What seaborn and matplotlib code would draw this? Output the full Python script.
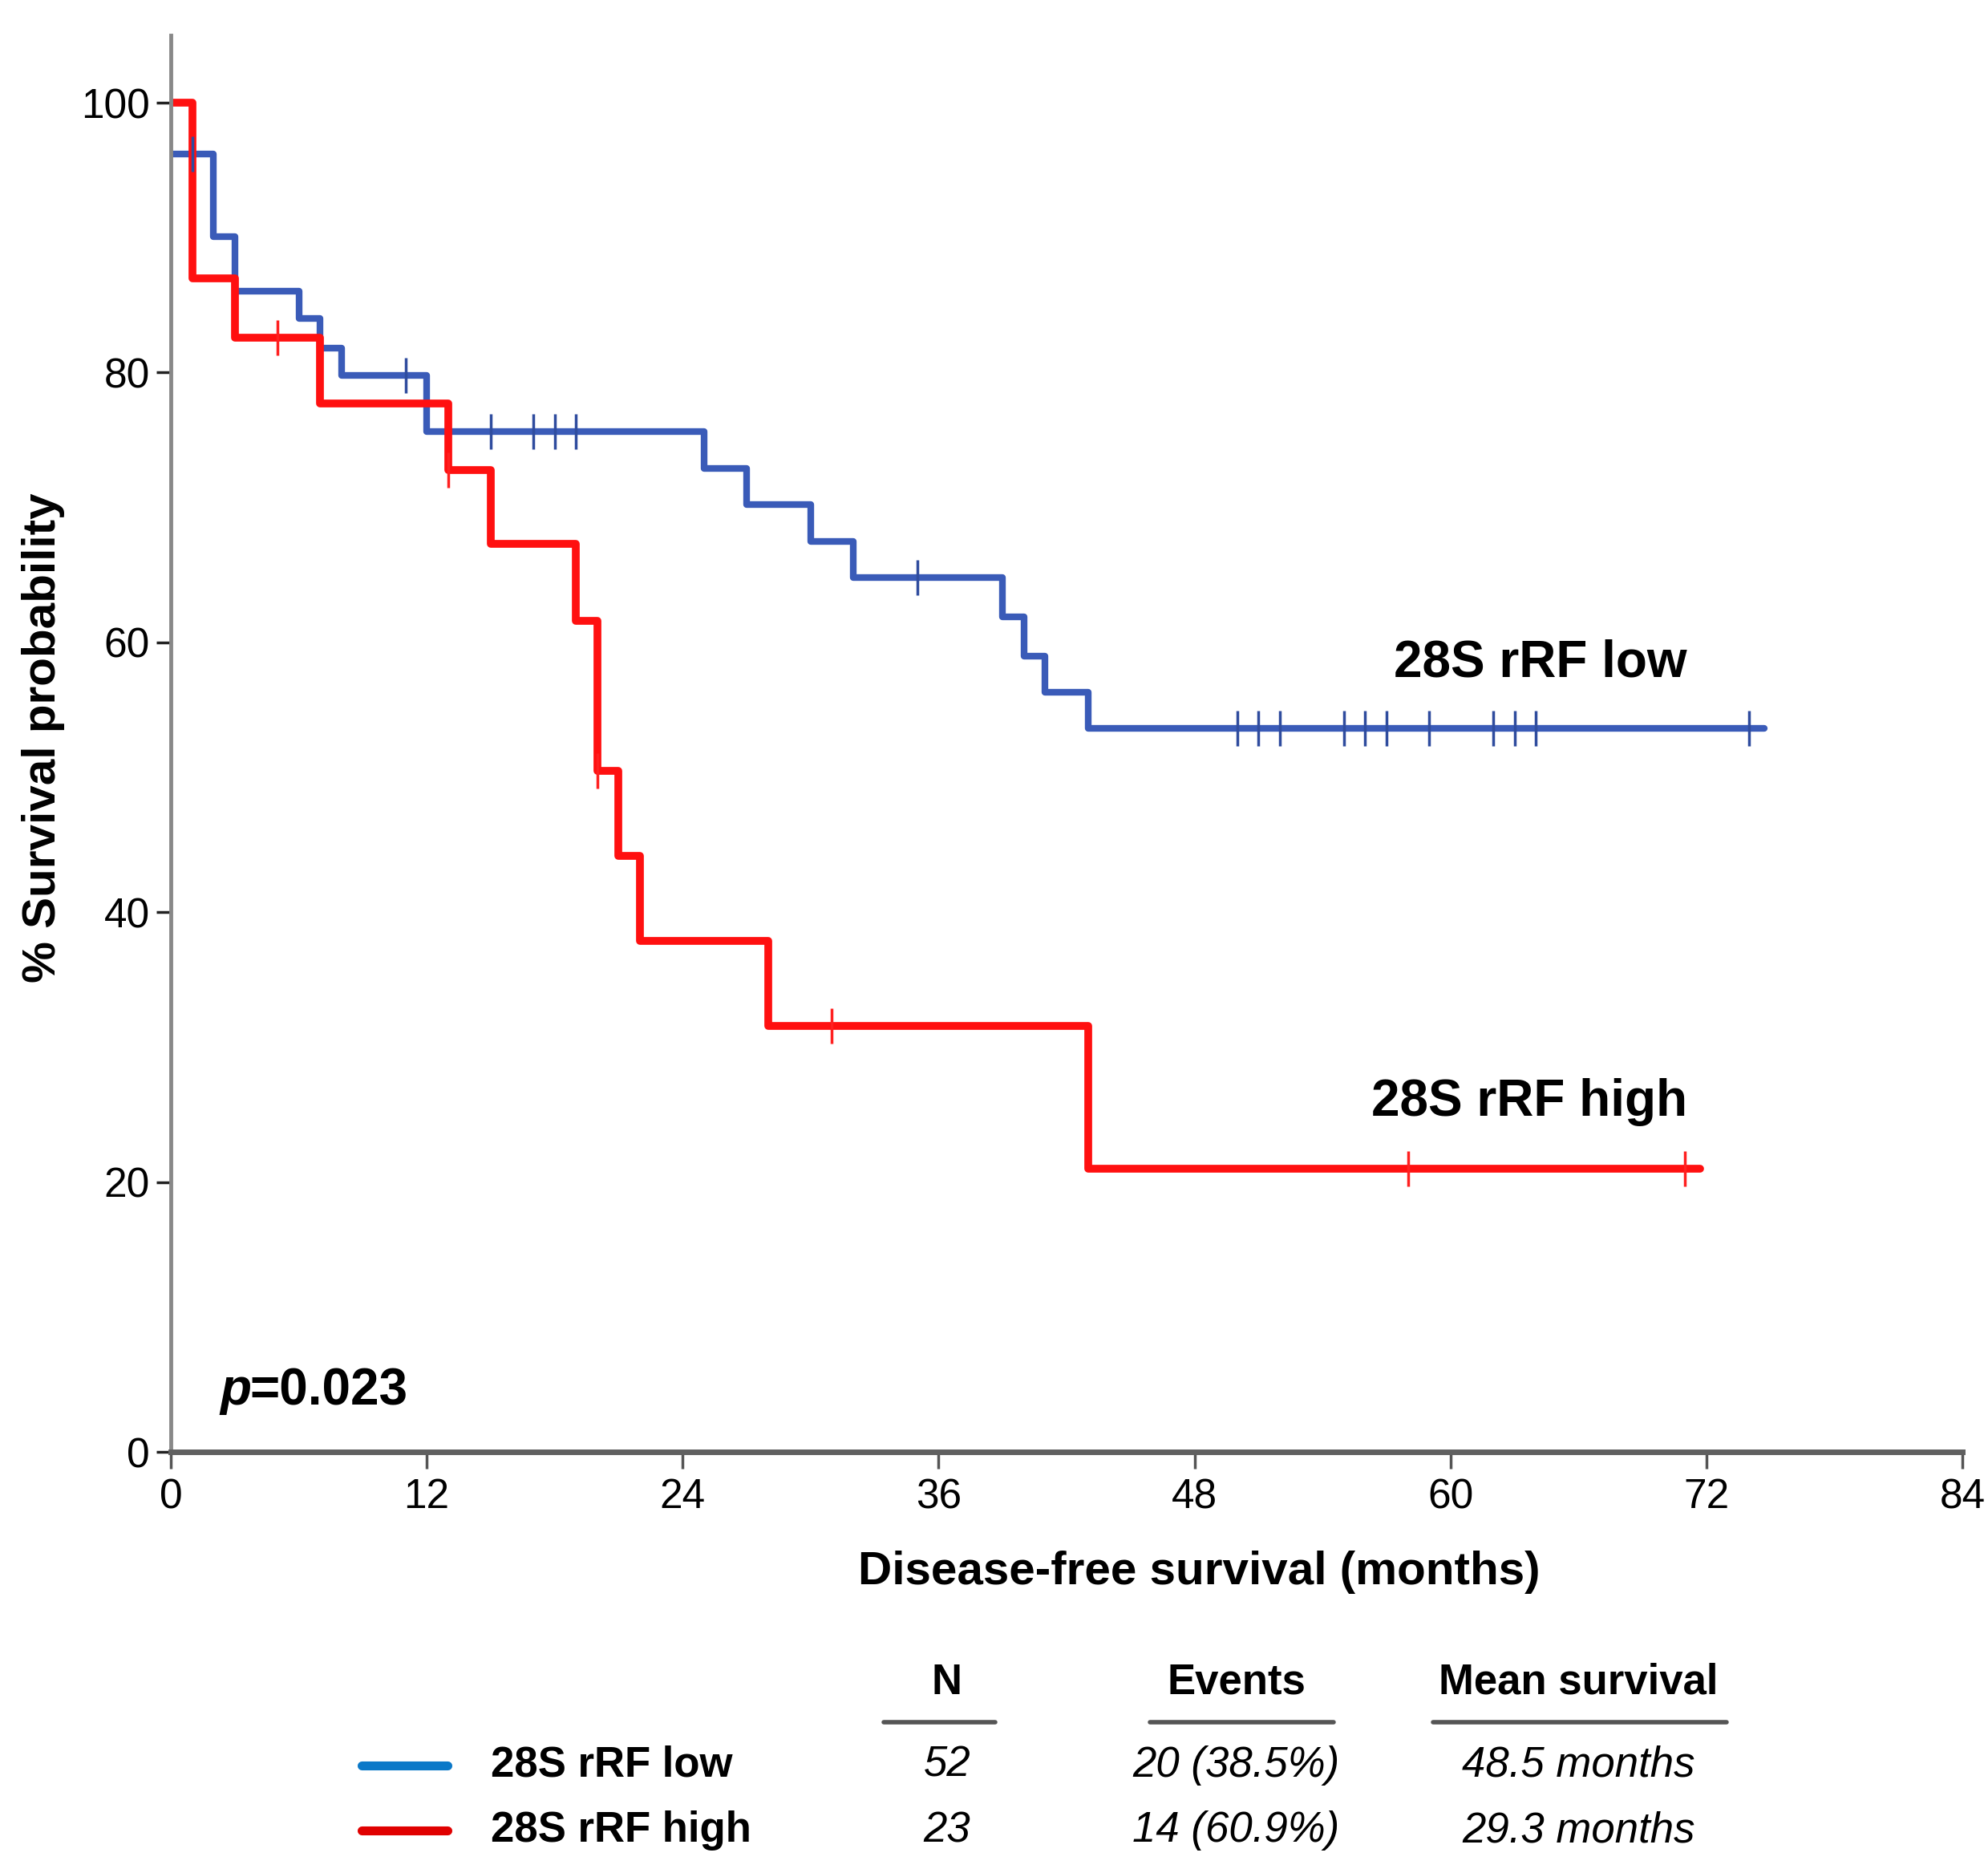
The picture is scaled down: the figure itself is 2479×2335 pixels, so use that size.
import numpy as np
import pandas as pd
import matplotlib
matplotlib.use('Agg')
import matplotlib.pyplot as plt
from matplotlib.lines import Line2D
import seaborn as sns

# Kaplan-Meier steps (months, % surviving)
low_months = [0, 2, 3, 6, 7, 8, 12, 25, 27, 30, 32, 39, 40, 41, 43, 74.7]
low_surv = [96.2, 90.1, 86.0, 84.0, 81.8, 79.8, 75.6, 72.9, 70.2, 67.5, 64.8, 61.9, 59.0, 56.3, 53.6, 53.6]
low_censored = [1, 11, 15, 17, 18, 19, 35, 50, 51, 52, 55, 56, 57, 59, 62, 63, 64, 74]

high_months = [0, 1, 3, 7, 13, 15, 19, 20, 21, 22, 28, 43, 71.7]
high_surv = [100, 87.0, 82.6, 77.7, 72.8, 67.3, 61.6, 50.5, 44.2, 37.9, 31.6, 21.0, 21.0]
high_censored = [5, 13, 20, 31, 58, 71]

groups = ['28S rRF low', '28S rRF high']
n_patients = ['52', '23']
events = ['20 (38.5%)', '14 (60.9%)']
mean_survival = ['48.5 months', '29.3 months']
p_value = '0.023'

x_ticks = [0, 12, 24, 36, 48, 60, 72, 84]
y_ticks = [0, 20, 40, 60, 80, 100]

curve_colors = {'28S rRF low': '#3a5bb8', '28S rRF high': '#ff1010'}
tick_colors = {'28S rRF low': '#2f4c9e', '28S rRF high': '#ff2020'}
legend_colors = ['#0a78c8', '#e00000']

sns.set_style('ticks')
plt.rcParams['font.family'] = ['Liberation Sans', 'DejaVu Sans']
plt.rcParams['text.color'] = 'black'
plt.rcParams['axes.labelcolor'] = 'black'
plt.rcParams['xtick.labelcolor'] = 'black'
plt.rcParams['ytick.labelcolor'] = 'black'


def surv_at(t, months, surv):
    i = np.searchsorted(months, t, side='right') - 1
    return surv[i]


curves = pd.concat([
    pd.DataFrame({'month': low_months, 'surv': low_surv, 'group': groups[0]}),
    pd.DataFrame({'month': high_months, 'surv': high_surv, 'group': groups[1]}),
])
marks = pd.concat([
    pd.DataFrame({'month': low_censored,
                  'surv': [surv_at(t, low_months, low_surv) for t in low_censored],
                  'group': groups[0]}),
    pd.DataFrame({'month': high_censored,
                  'surv': [surv_at(t, high_months, high_surv) for t in high_censored],
                  'group': groups[1]}),
])

fig = plt.figure(figsize=(24.79, 23.35), dpi=100)
ax = fig.add_axes([0.0859, 0.2248, 0.9012, 0.7564])

for g, lw in zip(groups, [6.0, 7.0]):
    sns.lineplot(data=curves[curves.group == g], x='month', y='surv', color=curve_colors[g],
                 drawstyle='steps-post', linewidth=lw, estimator=None, ax=ax, legend=False)
for g in groups:
    sns.scatterplot(data=marks[marks.group == g], x='month', y='surv', marker='|', s=1000,
                    color=tick_colors[g], linewidth=2.5, ax=ax, legend=False, zorder=5)

ax.set_xlim(0, 84)
ax.set_ylim(0, 105)
ax.set_xticks(x_ticks)
ax.set_yticks(y_ticks)
ax.set_xticklabels([str(v) for v in x_ticks], fontsize=37)
ax.set_yticklabels([str(v) for v in y_ticks], fontsize=37)
ax.tick_params(axis='x', length=15, width=2.5, color='#555555', pad=8)
ax.tick_params(axis='y', length=13, width=2.5, color='#222222', pad=6)
sns.despine(ax=ax)
ax.spines['left'].set_color('#888888')
ax.spines['left'].set_linewidth(3.5)
ax.spines['bottom'].set_color('#606060')
ax.spines['bottom'].set_linewidth(5)

ax.set_xlabel('Disease-free survival (months)', fontsize=42, fontweight='bold', va='center')
ax.xaxis.set_label_coords(0.574, -0.085)
ax.set_ylabel('% Survival probability', fontsize=42, fontweight='bold', va='center')
ax.yaxis.set_label_coords(-0.071, 0.504)

ax.text(71.1, 58.5, groups[0], fontsize=46, fontweight='bold', ha='right', va='center')
ax.text(71.1, 25.9, groups[1], fontsize=46, fontweight='bold', ha='right', va='center')
ax.text(2.3, 4.5, 'p', fontsize=46, fontweight='bold', style='italic', ha='left', va='center')
ax.text(3.7, 4.5, '=' + p_value, fontsize=46, fontweight='bold', ha='left', va='center')

# summary table under the plot
head_y, line_y, row_y = 0.1016, 0.0806, [0.0575, 0.0225]
col_x = [0.4764, 0.6218, 0.794]
col_lines = [(0.4445, 0.5006), (0.5784, 0.6709), (0.7207, 0.8686)]
for x, name in zip(col_x, ['N', 'Events', 'Mean survival']):
    fig.text(x, head_y, name, fontsize=38, fontweight='bold', ha='center', va='center')
for x0, x1 in col_lines:
    fig.add_artist(Line2D([x0, x1], [line_y, line_y], color='#555555', linewidth=4))
for i, g in enumerate(groups):
    y = row_y[i]
    fig.add_artist(Line2D([0.1818, 0.2251], [y, y], color=legend_colors[i], linewidth=8))
    fig.text(0.2468, y, g, fontsize=38, fontweight='bold', ha='left', va='center')
    for x, val in zip(col_x, [n_patients[i], events[i], mean_survival[i]]):
        fig.text(x, y, val, fontsize=38, style='italic', ha='center', va='center')

fig.savefig('out.png', dpi=100)
